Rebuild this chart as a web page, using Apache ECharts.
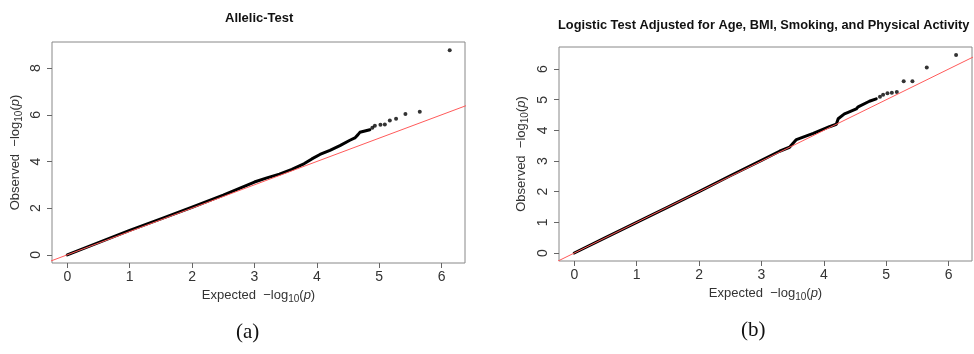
<!DOCTYPE html>
<html>
<head>
<meta charset="utf-8">
<script src="https://cdn.jsdelivr.net/npm/echarts@6/dist/echarts.min.js"></script>
<style>
  html, body { margin: 0; padding: 0; background: #fff; }
  #chart { width: 974px; height: 354px; }
</style>
</head>
<body>
<div id="chart"></div>
<script>
// (a) Allelic test: dense part of the QQ curve, then the sparse tail
var aExp = [0, 0.5, 1, 1.5, 2, 2.5, 3, 3.2, 3.4, 3.6, 3.8, 3.92, 4.05, 4.21, 4.37, 4.53, 4.61, 4.66, 4.69, 4.85];
var aObs = [0, 0.52, 1.05, 1.54, 2.04, 2.56, 3.12, 3.3, 3.46, 3.66, 3.91, 4.11, 4.3, 4.48, 4.68, 4.91, 5.01, 5.15, 5.25, 5.36];
var aTailExp = [4.89, 4.93, 5.02, 5.09, 5.17, 5.27, 5.42, 5.65, 6.13];
var aTailObs = [5.45, 5.53, 5.57, 5.59, 5.76, 5.83, 6.03, 6.13, 8.77];

// (b) adjusted logistic test
var bExp = [0, 0.5, 1, 1.5, 2, 2.5, 3, 3.29, 3.45, 3.56, 3.83, 4.09, 4.2, 4.23, 4.33, 4.39, 4.52, 4.55, 4.73, 4.84];
var bObs = [0, 0.5, 1.0, 1.5, 2.0, 2.52, 3.02, 3.32, 3.45, 3.7, 3.9, 4.12, 4.2, 4.38, 4.54, 4.59, 4.7, 4.77, 4.95, 5.03];
var bTailExp = [4.9, 4.95, 5.02, 5.09, 5.17, 5.28, 5.42, 5.65, 6.12];
var bTailObs = [5.1, 5.16, 5.21, 5.23, 5.25, 5.6, 5.6, 6.05, 6.46];

// y = x reference line ends
var refLine = [[-1, -1], [10, 10]];

var xTicks = [0, 1, 2, 3, 4, 5, 6];
var aYTicks = [0, 2, 4, 6, 8];
var bYTicks = [0, 1, 2, 3, 4, 5, 6];

function zip(xs, ys) {
  return xs.map(function (x, i) { return [x, ys[i]]; });
}

var FONT = 'Liberation Sans';
var rich = {
  n: { fontFamily: FONT, fontSize: 13, color: '#333' },
  s: { fontFamily: FONT, fontSize: 10, color: '#333', padding: [7, 0, 0, 0] },
  p: { fontFamily: FONT, fontSize: 13, color: '#333', fontStyle: 'italic' }
};

function xAxisFor(gi) {
  return {
    type: 'value', gridIndex: gi, min: -0.245, max: 6.375,
    splitLine: { show: false },
    axisLine: { show: false, onZero: false },
    axisTick: { show: true, length: 5, customValues: xTicks, lineStyle: { color: '#666' } },
    axisLabel: { customValues: xTicks, margin: 7, fontFamily: FONT, fontSize: 14, color: '#333' },
    name: '{n|Expected  \u2212log}{s|10}{n|(}{p|p}{n|)}',
    nameLocation: 'middle', nameGap: 24,
    nameTextStyle: { rich: rich }
  };
}

function yAxisFor(gi, min, max, ticks, gap) {
  return {
    type: 'value', gridIndex: gi, min: min, max: max,
    splitLine: { show: false },
    axisLine: { show: false, onZero: false },
    axisTick: { show: true, length: 5, customValues: ticks, lineStyle: { color: '#666' } },
    axisLabel: { customValues: ticks, rotate: 90, margin: 9, fontFamily: FONT, fontSize: 14, color: '#333' },
    name: '{n|Observed  \u2212log}{s|10}{n|(}{p|p}{n|)}',
    nameLocation: 'middle', nameGap: gap, nameRotate: 90,
    nameTextStyle: { rich: rich }
  };
}

function seriesFor(gi, dense, tail) {
  return [
    {
      type: 'line', xAxisIndex: gi, yAxisIndex: gi, data: dense,
      showSymbol: false, silent: true,
      lineStyle: { color: '#000', width: 3, cap: 'round', join: 'round' }
    },
    {
      type: 'scatter', xAxisIndex: gi, yAxisIndex: gi, data: tail,
      symbolSize: 4, itemStyle: { color: '#000' }, silent: true
    },
    {
      type: 'line', xAxisIndex: gi, yAxisIndex: gi, data: refLine,
      showSymbol: false, silent: true, clip: true,
      lineStyle: { color: '#ff5a5a', width: 1 }
    }
  ];
}

var chart = echarts.init(document.getElementById('chart'));
chart.setOption({
  animation: false,
  textStyle: { fontFamily: FONT },
  title: [
    { text: 'Allelic-Test', left: 225, top: 12, padding: 0,
      textStyle: { fontFamily: FONT, fontSize: 13, fontWeight: 'bold', color: '#111' } },
    { text: 'Logistic Test Adjusted for Age, BMI, Smoking, and Physical Activity', left: 558, top: 19, padding: 0,
      textStyle: { fontFamily: FONT, fontSize: 12.8, fontWeight: 'bold', color: '#111' } }
  ],
  grid: [
    { left: 52, top: 42, width: 413, height: 221, show: true, borderColor: '#888', borderWidth: 1, backgroundColor: 'transparent' },
    { left: 559, top: 47, width: 413, height: 214, show: true, borderColor: '#888', borderWidth: 1, backgroundColor: 'transparent' }
  ],
  xAxis: [xAxisFor(0), xAxisFor(1)],
  yAxis: [
    yAxisFor(0, -0.35, 9.12, aYTicks, 28),
    yAxisFor(1, -0.26, 6.72, bYTicks, 29)
  ],
  series: seriesFor(0, zip(aExp, aObs), zip(aTailExp, aTailObs))
    .concat(seriesFor(1, zip(bExp, bObs), zip(bTailExp, bTailObs))),
  graphic: [
    { type: 'text', left: 236, top: 322,
      style: { text: '(a)', fontFamily: 'Liberation Serif', fontSize: 21, fill: '#111' } },
    { type: 'text', left: 741, top: 320,
      style: { text: '(b)', fontFamily: 'Liberation Serif', fontSize: 21, fill: '#111' } }
  ]
});
</script>
</body>
</html>
